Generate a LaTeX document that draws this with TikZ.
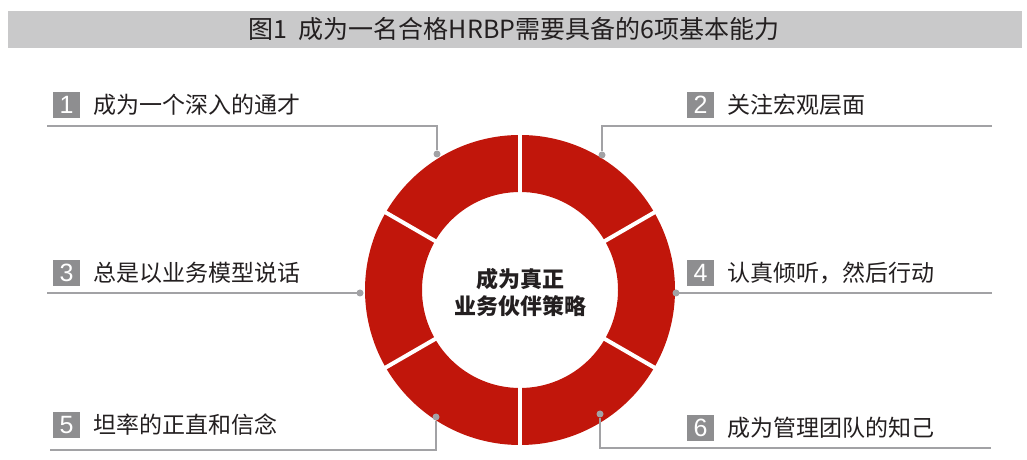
\documentclass[tikz,border=0pt]{standalone}
\usepackage{fontspec}
\setmainfont{Noto Sans CJK SC}
\newfontfamily\digitfont{Liberation Sans}
\usepackage{xcolor}

\definecolor{ringred}{HTML}{C1160B}
\definecolor{boxgray}{HTML}{8E8E90}
\definecolor{linegray}{HTML}{A2A2A5}
\definecolor{bargray}{HTML}{C9C9CA}
\definecolor{inkgray}{HTML}{231F20}

\begin{document}
\begin{tikzpicture}
  [x=1pt,y=1pt,
   numbox/.style={fill=boxgray,text=white,minimum width=27pt,minimum height=26pt,
     inner sep=0pt,font=\digitfont\fontsize{25}{25}\selectfont},
   itemtext/.style={anchor=west,inner sep=0pt,text=inkgray,font=\fontsize{23}{23}\selectfont},
   dot/.style={circle,fill=linegray,inner sep=0pt,minimum size=7pt}]
  \useasboundingbox (0,0) rectangle (1027,460);

  \fill[bargray] (8,412) rectangle (1022,449);
  \node[text=inkgray,font=\fontsize{25}{25}\selectfont] (title) at (514,431)
    {图1\ \ 成为一名合格HRBP需要具备的6项基本能力};

  % ring
  \coordinate (c) at (520,170);
  \fill[ringred,even odd rule] (c) circle[radius=155] (c) circle[radius=98];
  \foreach \a in {30,90,...,330}
    \draw[white,line width=4pt] (c) ++(\a:95) -- ++(\a:63);
  \node[text=inkgray,align=center,font=\bfseries\fontsize{22}{27}\selectfont] (core) at (520,168)
    {成为真正\\业务伙伴策略};

  \node[dot] (d1) at (437,306) {};
  \node[dot] (d2) at (602,305) {};
  \node[dot] (d3) at (360,167) {};
  \node[dot] (d4) at (676,167) {};
  \node[dot] (d5) at (436,43)  {};
  \node[dot] (d6) at (600,46)  {};

  \coordinate (s1) at (47,334);
  \coordinate (s2) at (992,334);
  \coordinate (s3) at (47,167);
  \coordinate (s4) at (992,167);
  \coordinate (s5) at (50,10);
  \coordinate (s6) at (991,12);

  \foreach \from/\to in {s1/d1,s2/d2,s3/d3,s4/d4,s5/d5,s6/d6}
    \draw[linegray,line width=1.6pt] (\from) -| (\to);

  \node[numbox] (b1) at (66.5,355) {1};
  \node[itemtext] (t1) at (93,355) {成为一个深入的通才};
  \node[numbox] (b2) at (700.5,355) {2};
  \node[itemtext] (t2) at (727,355) {关注宏观层面};
  \node[numbox] (b3) at (66.5,187) {3};
  \node[itemtext] (t3) at (93,187) {总是以业务模型说话};
  \node[numbox] (b4) at (700.5,187) {4};
  \node[itemtext] (t4) at (727,187) {认真倾听，然后行动};
  \node[numbox] (b5) at (66.5,35) {5};
  \node[itemtext] (t5) at (93,35) {坦率的正直和信念};
  \node[numbox] (b6) at (700.5,32) {6};
  \node[itemtext] (t6) at (727,32) {成为管理团队的知己};

\end{tikzpicture}
\end{document}
